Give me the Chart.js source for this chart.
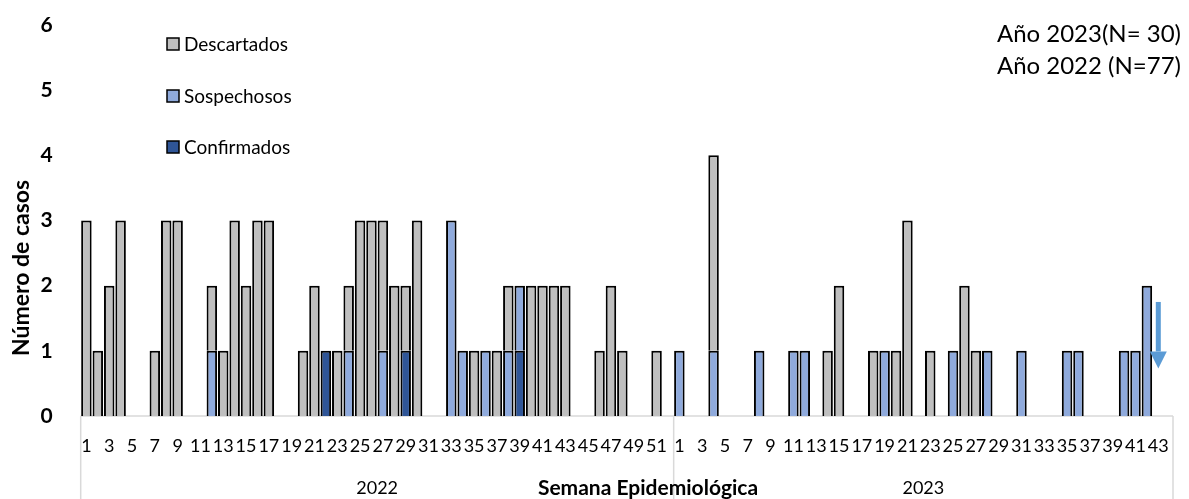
<!DOCTYPE html>
<html>
<head>
<meta charset="utf-8">
<script src="https://cdn.jsdelivr.net/npm/chart.js@4.4.0/dist/chart.umd.min.js"></script>
<style>
  html, body { margin: 0; background: #fff; }
  canvas { display: block; }
</style>
</head>
<body>
<canvas id="chart" width="1189" height="499"></canvas>
<script>
// ---------- Data ----------
const weeks2022 = [1,2,3,4,5,6,7,8,9,10,11,12,13,14,15,16,17,18,19,20,21,22,23,24,25,26,
  27,28,29,30,31,32,33,34,35,36,37,38,39,40,41,42,43,44,45,46,47,48,49,50,51,52];
const weeks2023 = [1,2,3,4,5,6,7,8,9,10,11,12,13,14,15,16,17,18,19,20,21,22,23,24,25,26,
  27,28,29,30,31,32,33,34,35,36,37,38,39,40,41,42,43];
const years = ['2022', '2023'];

const descartados2022 = [3,1,2,3,0,0,1,3,3,0, 0,1,1,3,2,3,3,0,0,1, 2,0,1,1,3,3,2,2,1,3,
  0,0,0,0,1,0,1,1,0,2, 2,2,2,0,0,1,2,1,0,0, 1,0];
const sospechosos2022 = [0,0,0,0,0,0,0,0,0,0, 0,1,0,0,0,0,0,0,0,0, 0,0,0,1,0,0,1,0,0,0,
  0,0,3,1,0,1,0,1,1,0, 0,0,0,0,0,0,0,0,0,0, 0,0];
const confirmados2022 = [0,0,0,0,0,0,0,0,0,0, 0,0,0,0,0,0,0,0,0,0, 0,1,0,0,0,0,0,0,1,0,
  0,0,0,0,0,0,0,0,1,0, 0,0,0,0,0,0,0,0,0,0, 0,0];

const descartados2023 = [0,0,0,3,0,0,0,0,0,0, 0,0,0,1,2,0,0,1,0,1, 3,0,1,0,0,2,1,0,0,0,
  0,0,0,0,0,0,0,0,0,0, 0,0,0];
const sospechosos2023 = [1,0,0,1,0,0,0,1,0,0, 1,1,0,0,0,0,0,0,1,0, 0,0,0,0,1,0,0,1,0,0,
  1,0,0,0,1,1,0,0,0,1, 1,2,0];
const confirmados2023 = [0,0,0,0,0,0,0,0,0,0, 0,0,0,0,0,0,0,0,0,0, 0,0,0,0,0,0,0,0,0,0,
  0,0,0,0,0,0,0,0,0,0, 0,0,0];

const totals = ['Año 2023(N= 30)', 'Año 2022 (N=77)'];
const arrowWeek = 43;           // 2023 week marked by the arrow
const arrowFrom = 1.75, arrowTo = 0.73;

// ---------- Helpers ----------
const labels = weeks2022.concat(weeks2023).map(String);
const join = (a, b) => a.concat(b).map(v => v === 0 ? null : v);
const FONT = 'Lato, "Open Sans", sans-serif';

// ---------- Extra drawing: table lines, titles, legend, notes, arrow ----------
const extras = {
  id: 'extras',
  beforeDatasetsDraw(chart) {
    const { ctx, scales: { x, y } } = chart;
    const step = x.getPixelForValue(1) - x.getPixelForValue(0);
    const left = x.getPixelForValue(0) - step / 2;
    const split = x.getPixelForValue(weeks2022.length) - step / 2;
    const right = x.right + 9;
    const axisY = y.getPixelForValue(0);
    ctx.save();
    ctx.strokeStyle = '#D9D9D9';
    ctx.lineWidth = 1.5;
    ctx.beginPath();
    ctx.moveTo(left, axisY); ctx.lineTo(right, axisY);
    [left, split, right].forEach(px => { ctx.moveTo(px, axisY); ctx.lineTo(px, chart.height); });
    ctx.stroke();
    ctx.restore();
  },
  afterDraw(chart) {
    const { ctx, scales: { x, y } } = chart;
    const step = x.getPixelForValue(1) - x.getPixelForValue(0);
    const left = x.getPixelForValue(0) - step / 2;
    const split = x.getPixelForValue(weeks2022.length) - step / 2;
    const right = x.right + 9;
    ctx.save();
    ctx.fillStyle = '#000';
    ctx.textBaseline = 'middle';
    ctx.textAlign = 'center';

    // year row
    ctx.font = '18px ' + FONT;
    ctx.fillText(years[0], (left + split) / 2, 488);
    ctx.fillText(years[1], (split + right) / 2, 488);

    // axis titles
    ctx.font = 'bold 21px ' + FONT;
    ctx.fillText('Semana Epidemiológica', 648, 488);
    ctx.save();
    ctx.translate(22, 268);
    ctx.rotate(-Math.PI / 2);
    ctx.font = 'bold 23px ' + FONT;
    ctx.fillText('Número de casos', 0, 0);
    ctx.restore();

    // legend (top to bottom, reverse of stacking)
    const ds = chart.data.datasets.slice().reverse();
    const rowsY = [44, 96, 147];
    ctx.textAlign = 'left';
    ctx.font = '19px ' + FONT;
    ds.forEach((d, i) => {
      ctx.fillStyle = d.backgroundColor;
      ctx.fillRect(167, rowsY[i] - 6, 12, 12);
      ctx.strokeStyle = '#000';
      ctx.lineWidth = 1.5;
      ctx.strokeRect(167, rowsY[i] - 6, 12, 12);
      ctx.fillStyle = '#000';
      ctx.fillText(d.label, 184, rowsY[i] + 1);
    });

    // N notes
    ctx.textAlign = 'right';
    ctx.font = '24px ' + FONT;
    ctx.fillText(totals[0], 1181, 34);
    ctx.fillText(totals[1], 1181, 66);

    // arrow
    const ax = x.getPixelForValue(weeks2022.length + arrowWeek - 1);
    const yTop = y.getPixelForValue(arrowFrom);
    const yTip = y.getPixelForValue(arrowTo);
    const yBase = yTip - 17;
    ctx.fillStyle = '#5B9BD5';
    ctx.fillRect(ax - 2.5, yTop, 5, yBase - yTop);
    ctx.beginPath();
    ctx.moveTo(ax - 8.5, yBase);
    ctx.lineTo(ax + 8.5, yBase);
    ctx.lineTo(ax, yTip);
    ctx.closePath();
    ctx.fill();
    ctx.restore();
  }
};

// ---------- Chart ----------
const barStyle = { borderColor: '#000', borderWidth: 2, barPercentage: 0.92, categoryPercentage: 1 };

new Chart(document.getElementById('chart'), {
  type: 'bar',
  data: {
    labels,
    datasets: [
      { label: 'Confirmados', data: join(confirmados2022, confirmados2023), backgroundColor: '#2F5597', ...barStyle },
      { label: 'Sospechosos', data: join(sospechosos2022, sospechosos2023), backgroundColor: '#8FAADC', ...barStyle },
      { label: 'Descartados', data: join(descartados2022, descartados2023), backgroundColor: '#BFBFBF', ...barStyle }
    ]
  },
  options: {
    responsive: false,
    animation: false,
    devicePixelRatio: 1,
    layout: { padding: { left: 0, right: 25, top: 25, bottom: 0 } },
    plugins: { legend: { display: false }, tooltip: { enabled: false } },
    scales: {
      x: {
        stacked: true,
        grid: { display: false, drawTicks: false },
        border: { display: false },
        ticks: {
          autoSkip: false, maxRotation: 0, minRotation: 0, padding: 19, color: '#000',
          font: { family: FONT, size: 18 },
          callback: (v, i) => (i % 2 === 0 ? labels[i] : '')
        },
        afterFit: s => { s.height = 83; }
      },
      y: {
        stacked: true,
        min: 0, max: 6,
        // tick length (not tick padding) pushes labels left without adding top padding
        grid: { display: false, drawTicks: true, tickLength: 28 },
        border: { display: false },
        ticks: { stepSize: 1, padding: 0, color: '#000', font: { family: FONT, size: 21, weight: 'bold' } },
        afterFit: s => { s.width = 80.7; }
      }
    }
  },
  plugins: [extras]
});
</script>
</body>
</html>
